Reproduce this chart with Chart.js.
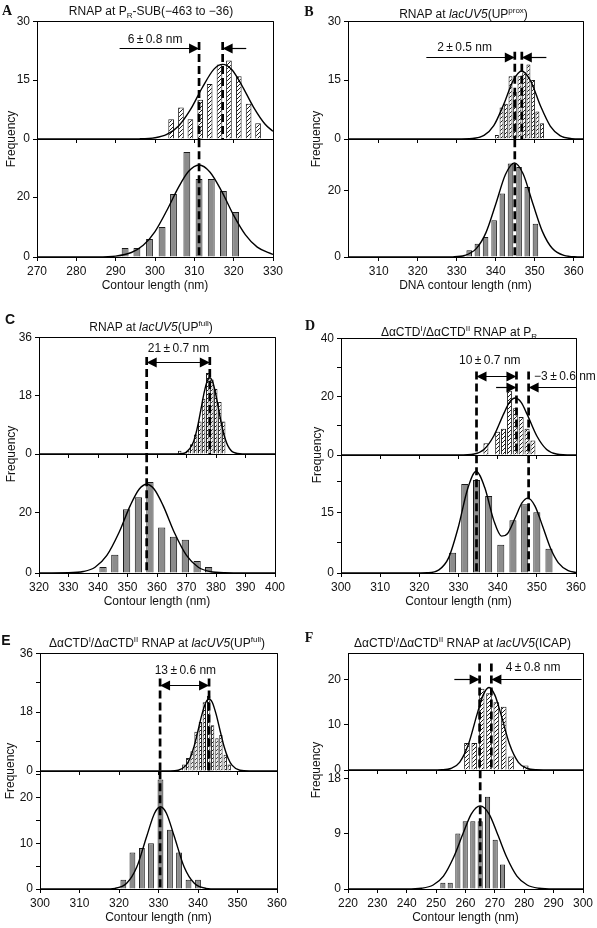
<!DOCTYPE html>
<html><head><meta charset="utf-8">
<script src="https://cdn.jsdelivr.net/npm/chart.js@4.4.1/dist/chart.umd.min.js"></script>
<style>
html,body{margin:0;padding:0;background:#fff;}
#fig{position:relative;width:597px;height:928px;overflow:hidden;background:#fff;font-family:"Liberation Sans",Arial,Helvetica,sans-serif;color:#111;}
#fig canvas{position:absolute;}
.t{position:absolute;font-size:12px;white-space:nowrap;transform:translate(-50%,-50%);line-height:14px;}
.L{position:absolute;font-weight:bold;font-size:14px;transform:translate(-50%,-50%);line-height:14px;}
.serif{font-family:"Liberation Serif","Times New Roman",serif;}
.yl{position:absolute;font-size:12px;white-space:nowrap;transform:translate(-50%,-50%) rotate(-90deg);line-height:14px;}
sub,sup{font-size:8px;line-height:0;}
</style></head><body><div id="fig"></div>
<script>
// ---------------- DATA ----------------
// Panel A
const xTicksA = [270,280,290,300,310,320,330];
const yTicksTopA = [0,15,30];
const yTicksBotA = [0,20];
const binsTopA = [304.1,306.6,309.0,311.5,313.9,316.4,318.8,321.3,323.8,326.2];
const countsTopA = [5,8,5,10,14,19,20,16,9,4];
const binsBotA = [292.4,295.4,298.6,301.8,304.7,308.1,311.2,314.3,317.4,320.5];
const countsBotA = [3,3,6,10,21,35,26,26,22,15];
const fitTopXA = [270,290,296,300,303,306,309,312,315,317.2,319.5,322,325,328,330];
const fitTopYA = [0,0,0.04,0.31,1.16,3.33,7.47,13.05,17.8,19,17.7,13.8,8.2,3.76,1.95];
const fitBotXA = [270,285,290,294,297,300,303,306,308.5,311.2,314,317,320,323,326,330];
const fitBotYA = [0,0.03,0.31,1.5,3.9,8.5,15.5,23.3,28.5,30.7,28.3,21.8,13.9,7.4,3.3,0.84];

// Panel B
const xTicksB = [310,320,330,340,350,360];
const yTicksTopB = [0,15,30];
const yTicksBotB = [0,20];
const binsTopB = [340.3,341.5,342.6,343.8,344.9,346.1,347.3,348.4,349.6,350.7,351.9];
const countsTopB = [1,8,9,16,12,16,17,19,15,7,4];
const binsBotB = [333.2,335.3,337.4,339.6,341.7,343.8,346.0,348.1,350.2];
const countsBotB = [2,4,6,11,19,28,27,21,10];
const fitTopXB = [302,330,334,337,339.5,342,344.5,346.7,349,351.5,354,356.5,359.5,362.4];
const fitTopYB = [0,0,0.11,0.91,3.4,8.7,14.9,17.3,14.7,8.4,3.3,0.86,0.1,0];
const fitBotXB = [302,325,329,332,335,337.5,340,342.5,344.8,347,349.5,352,354.5,357.5,361,362.4];
const fitBotYB = [0,0,0.05,0.45,2.5,7.3,15.8,24.7,28.2,25,16.1,7.6,2.6,0.48,0.04,0];

// Panel C
const xTicksC = [320,330,340,350,360,370,380,390,400];
const yTicksTopC = [0,18,36];
const yTicksBotC = [0,20];
const binsTopC = [367.7,369.0,370.4,371.8,373.1,374.5,375.8,377.2,378.6,379.9,381.3,382.6];
const countsTopC = [1,0,1,3,6,10,17,25,23,20,16,10];
const binsBotC = [341.7,345.7,349.7,353.7,357.6,361.6,365.6,369.6,373.6,377.5];
const countsBotC = [2,6,21,25,30,15,12,11,4,2];
const fitTopXC = [320,365,368,370,372,373,374,375,376,377,377.9,379,380,381,382,383,384,386,389,400];
const fitTopYC = [0,0,0.07,0.57,3.0,5.6,9.5,14.3,19,22.4,23.5,21.9,18.1,13.3,8.6,5.0,2.6,0.47,0.02,0];
const fitBotXC = [320,330,335,339,343,347,351,354,356.5,359,362,366,370,374,378,383,390,400];
const fitBotYC = [0,0.06,0.48,1.9,5.8,13.1,22.4,27.7,29.3,27.7,22.4,13.1,5.8,1.9,0.48,0.06,0,0];

// Panel D
const xTicksD = [300,310,320,330,340,350,360];
const yTicksTopD = [0,20,40];
const yMinorTopD = [10,30];
const yTicksBotD = [0,15];
const yMinorBotD = [7.5,22.5];
const binsTopD = [337,338.5,340,341.5,343,344.5,346,347.5,349];
const countsTopD = [4,0,8,9,22,16,13,9,5];
const binsBotD = [328.5,331.6,334.6,337.7,340.8,343.9,346.9,350.0,353.1];
const countsBotD = [5,22,23,19,7,13,17,15,6];
const fitTopXD = [300,330,334,336.5,339,341.5,343,344.5,346,347.5,350,352.5,355,359,360];
const fitTopYD = [0,0,0.35,1.88,6.5,14.0,18.0,19.5,18.0,14.0,6.5,1.88,0.35,0,0];
const fitBotXD = [300,318,322,325,327.5,330,332.3,334.5,336.7,339,341,342.5,344.5,346.2,347.7,349.5,351.5,353.5,355.5,358,360];
const fitBotYD = [0,0,0.06,0.77,3.8,11.5,20.7,25.1,21.1,13,9.1,9.7,13.7,17.3,18.5,16.6,11.5,6.1,2.5,0.56,0.13];

// Panel E
const xTicksE = [300,310,320,330,340,350,360];
const yTicksTopE = [0,18,36];
const yMinorTopE = [9,27];
const yTicksBotE = [0,10,20];
const yMinorBotE = [5,15,25];
const binsTopE = [336.4,337.4,338.5,339.5,340.6,341.6,342.7,343.7,344.8,345.8,346.9,347.9];
const countsTopE = [2,4,6,12,15,21,23,14,10,11,5,2];
const binsBotE = [321.1,323.4,325.8,328.1,330.5,332.9,335.2,337.6,340.0];
const countsBotE = [2,8,9,10,24,13,8,2,2];
const fitTopXE = [300,333,335,337,338,339,340,341,342,342.8,343.6,344.6,345.6,346.6,347.6,348.6,350.6,353,360];
const fitTopYE = [0,0,0.24,1.8,4.0,7.5,12.3,17.3,21,22,21,17.3,12.3,7.5,4.0,1.8,0.24,0,0];
const fitBotXE = [300,316,319,322,324.5,327,329,330.5,332,334,336.5,339,342,345,360];
const fitBotYE = [0,0,0.14,1.29,4.8,11.5,16.6,18,16.6,11.5,4.8,1.29,0.14,0,0];

// Panel F
const xTicksF = [220,230,240,250,260,270,280,290,300];
const yTicksTopF = [0,10,20];
const yTicksBotF = [0,9,18];
const binsTopF = [260.5,263,265.5,268,270.5,273,275.5,278,280.5];
const countsTopF = [6,6,18,17,15,14,3,0,1];
const binsBotF = [252.3,254.8,257.4,259.9,262.5,265.0,267.5,270.1,272.6];
const countsBotF = [1,1,9,11,11,11,15,8,4];
const fitTopXF = [220,248,252,255,258,261,264,266,268,270,272,275,278,281,284,290,300];
const fitTopYF = [0,0,0.04,0.33,1.7,5.7,12.5,16.6,18.3,16.6,12.5,5.7,1.7,0.33,0.04,0,0];
const fitBotXF = [220,240,245,249,252.5,256,259,262,265,268,271,274,277.5,281,285,290,300];
const fitBotYF = [0,0,0.12,0.65,2.1,5.2,8.8,12.2,13.5,12.2,8.8,5.2,2.1,0.65,0.12,0,0];

// ---------------- LAYOUT / CONFIG ----------------
const panels = [
 {left:37,right:273,top:21,mid:139,bot:257,xMin:270,xMax:330,xTicks:xTicksA,xTitle:'Contour length (nm)',
  T:{binX:binsTopA,count:countsTopA,fitX:fitTopXA,fitY:fitTopYA,yMax:30,yTicks:yTicksTopA,pct:0.6},
  B:{binX:binsBotA,count:countsBotA,fitX:fitBotXA,fitY:fitBotYA,yMax:39.3,yTicks:yTicksBotA,pct:0.6},
  TA:{dashes:[{x:311.2,y1:24.7},{x:317.2,y1:24.7}],arrows:[{x1:291,x2:311.2,y:23.1},{x1:323.2,x2:317.2,y:23.1}],texts:[{x:300,y:25.2,t:'6\u2009±\u20090.8 nm'}]},
  BA:{dashes:[{x:311.2}]}},
 {left:348,right:583,top:21,mid:139,bot:257,xMin:302.1,xMax:362.4,xTicks:xTicksB,xTitle:'DNA contour length (nm)',
  T:{binX:binsTopB,count:countsTopB,fitX:fitTopXB,fitY:fitTopYB,yMax:30,yTicks:yTicksTopB,pct:0.92},
  B:{binX:binsBotB,count:countsBotB,fitX:fitBotXB,fitY:fitBotYB,yMax:35.3,yTicks:yTicksBotB,pct:0.68},
  TA:{dashes:[{x:344.9,y1:22.2},{x:346.7,y1:22.2}],arrows:[{x1:322.2,x2:344.9,y:20.8},{x1:353,x2:346.7,y:20.8}],texts:[{x:332,y:23.2,t:'2\u2009±\u20090.5 nm'}]},
  BA:{dashes:[{x:344.9}]}},
 {left:39,right:275,top:337,mid:454,bot:573,xMin:320,xMax:400,xTicks:xTicksC,xTitle:'Contour length (nm)',
  T:{binX:binsTopC,count:countsTopC,fitX:fitTopXC,fitY:fitTopYC,yMax:36,yTicks:yTicksTopC,pct:0.92},
  B:{binX:binsBotC,count:countsBotC,fitX:fitBotXC,fitY:fitBotYC,yMax:39.2,yTicks:yTicksBotC,pct:0.63},
  TA:{dashes:[{x:356.5,y1:29.9},{x:377.9,y1:29.9}],arrows:[{x1:356.5,x2:377.9,y:28.3,both:true}],texts:[{x:367.3,y:32.6,t:'21\u2009±\u20090.7 nm'}]},
  BA:{dashes:[{x:356.5}]}},
 {left:341,right:576,top:338,mid:455,bot:573,xMin:300,xMax:360,xTicks:xTicksD,xTitle:'Contour length (nm)',
  T:{binX:binsTopD,count:countsTopD,fitX:fitTopXD,fitY:fitTopYD,yMax:40,yTicks:yTicksTopD,yMinor:yMinorTopD,pct:0.85},
  B:{binX:binsBotD,count:countsBotD,fitX:fitBotXD,fitY:fitBotYD,yMax:29.1,yTicks:yTicksBotD,yMinor:yMinorBotD,pct:0.6},
  TA:{dashes:[{x:334.6,y1:28.6},{x:344.8,y1:28.6},{x:347.9,y1:28.6}],
      arrows:[{x1:334.6,x2:344.8,y:26.9,both:true},{x1:339.6,x2:344.8,y:23.1},{x1:360,x2:347.9,y:23.1}],
      texts:[{x:338,y:32.4,t:'10\u2009±\u20090.7 nm'},{x:349.3,y:26.9,t:'\u22123\u2009±\u20090.6 nm',align:'left'}]},
  BA:{dashes:[{x:334.6},{x:347.9}]}},
 {left:40,right:277,top:653,mid:771,bot:889,xMin:300,xMax:360,xTicks:xTicksE,xTitle:'Contour length (nm)',
  T:{binX:binsTopE,count:countsTopE,fitX:fitTopXE,fitY:fitTopYE,yMax:36,yTicks:yTicksTopE,yMinor:yMinorTopE,pct:0.85},
  B:{binX:binsBotE,count:countsBotE,fitX:fitBotXE,fitY:fitBotYE,yMax:25.8,yTicks:yTicksBotE,yMinor:yMinorBotE,pct:0.64},
  TA:{dashes:[{x:330.4,y1:28.3},{x:342.8,y1:28.3}],arrows:[{x1:330.4,x2:342.8,y:26.0,both:true}],texts:[{x:336.8,y:30.6,t:'13\u2009±\u20090.6 nm'}]},
  BA:{dashes:[{x:330.4}]}},
 {left:348,right:583,top:653,mid:770,bot:889,xMin:220,xMax:300,xTicks:xTicksF,xTitle:'Contour length (nm)',
  T:{binX:binsTopF,count:countsTopF,fitX:fitTopXF,fitY:fitTopYF,yMax:25.9,yTicks:yTicksTopF,pct:0.77},
  B:{binX:binsBotF,count:countsBotF,fitX:fitBotXF,fitY:fitBotYF,yMax:19.3,yTicks:yTicksBotF,pct:0.7},
  TA:{dashes:[{x:264.8,y1:23.6},{x:268.8,y1:23.6}],arrows:[{x1:256.2,x2:264.8,y:20},{x1:299.5,x2:268.8,y:20}],texts:[{x:283,y:22.6,t:'4\u2009±\u20090.8 nm'}]},
  BA:{dashes:[{x:265}]}}
];

const htmlLabels = [
 {c:'L serif',x:7,y:11,h:'A'},
 {c:'L serif',x:309,y:11.5,h:'B'},
 {c:'L',x:10,y:319,h:'C'},
 {c:'L serif',x:310,y:325.5,h:'D'},
 {c:'L',x:6,y:640,h:'E'},
 {c:'L serif',x:309,y:638,h:'F'},
 {c:'t',x:151,y:10.5,h:'RNAP at P<sub>R</sub>-SUB(\u2212463 to \u221236)'},
 {c:'t',x:463.5,y:14,h:'RNAP at <i>lacUV5</i>(UP<sup>prox</sup>)'},
 {c:'t',x:151,y:326.7,h:'RNAP at <i>lacUV5</i>(UP<sup>full</sup>)'},
 {c:'t',x:459,y:331.7,h:'\u0394\u03b1CTD<sup>I</sup>/\u0394\u03b1CTD<sup>II</sup> RNAP at P<sub>R</sub>'},
 {c:'t',x:157,y:643.3,h:'\u0394\u03b1CTD<sup>I</sup>/\u0394\u03b1CTD<sup>II</sup> RNAP at <i>lacUV5</i>(UP<sup>full</sup>)'},
 {c:'t',x:462.5,y:643.3,h:'\u0394\u03b1CTD<sup>I</sup>/\u0394\u03b1CTD<sup>II</sup> RNAP at <i>lacUV5</i>(ICAP)'},
 {c:'yl',x:11,y:139,h:'Frequency'},
 {c:'yl',x:316,y:139,h:'Frequency'},
 {c:'yl',x:11,y:454,h:'Frequency'},
 {c:'yl',x:317,y:455,h:'Frequency'},
 {c:'yl',x:10,y:771,h:'Frequency'},
 {c:'yl',x:316,y:770,h:'Frequency'}
];

// ---------------- RENDER ----------------
Chart.defaults.font.family = '"Liberation Sans", Arial, Helvetica, sans-serif';
Chart.defaults.font.size = 12;
Chart.defaults.color = '#111';
const fig = document.getElementById('fig');

function makeHatch(){
  const s = 4, c = document.createElement('canvas');
  c.width = s; c.height = s;
  const g = c.getContext('2d');
  g.fillStyle = '#fff'; g.fillRect(0,0,s,s);
  g.strokeStyle = '#1a1a1a'; g.lineWidth = 1;
  g.beginPath();
  g.moveTo(0,s); g.lineTo(s,0);
  g.moveTo(-1,1); g.lineTo(1,-1);
  g.moveTo(s-1,s+1); g.lineTo(s+1,s-1);
  g.stroke();
  return g.createPattern(c,'repeat');
}
const HATCH = makeHatch();

function al(v){ return Math.round(v - 0.5) + 0.5; }

function head(ctx, tip, y, dir){
  const L = 10, H = 5;
  ctx.beginPath();
  ctx.moveTo(tip, y);
  ctx.lineTo(tip - dir*L, y - H);
  ctx.lineTo(tip - dir*L, y + H);
  ctx.closePath();
  ctx.fill();
}

function annoPlugin(spec, isBot){
  return {
    id: 'anno',
    afterDatasetsDraw(chart){
      const ctx = chart.ctx, ca = chart.chartArea, xs = chart.scales.x, ys = chart.scales.y;
      ctx.save();
      ctx.strokeStyle = '#000'; ctx.fillStyle = '#000'; ctx.lineWidth = 1;
      // frame (top + right)
      ctx.beginPath();
      if (!isBot){ ctx.moveTo(ca.left, al(ca.top)); ctx.lineTo(al(ca.right), al(ca.top)); }
      ctx.moveTo(al(ca.right), ca.top); ctx.lineTo(al(ca.right), ca.bottom);
      ctx.stroke();
      // dashed lines
      (spec.dashes||[]).forEach(d => {
        const px = xs.getPixelForValue(d.x);
        const y1 = d.y1 == null ? ca.top : ys.getPixelForValue(d.y1);
        const y2 = ys.getPixelForValue(0);
        ctx.save();
        ctx.setLineDash([8,4]); ctx.lineWidth = 2.7;
        ctx.beginPath(); ctx.moveTo(px, y1); ctx.lineTo(px, y2); ctx.stroke();
        ctx.restore();
      });
      // arrows
      (spec.arrows||[]).forEach(a => {
        const x1 = xs.getPixelForValue(a.x1), x2 = xs.getPixelForValue(a.x2);
        const y = al(ys.getPixelForValue(a.y));
        ctx.lineWidth = 1.2;
        ctx.beginPath(); ctx.moveTo(x1, y); ctx.lineTo(x2, y); ctx.stroke();
        head(ctx, x2, y, Math.sign(x2 - x1));
        if (a.both) head(ctx, x1, y, Math.sign(x1 - x2));
      });
      // texts
      ctx.font = '12px "Liberation Sans", Arial, sans-serif';
      ctx.fillStyle = '#111';
      ctx.textBaseline = 'middle';
      (spec.texts||[]).forEach(t => {
        ctx.textAlign = t.align || 'center';
        ctx.fillText(t.t, xs.getPixelForValue(t.x), ys.getPixelForValue(t.y));
      });
      ctx.restore();
    }
  };
}

function buildChart(p, isBot){
  const d = isBot ? p.B : p.T;
  const spec = isBot ? p.BA : p.TA;
  const plotT = isBot ? p.mid : p.top, plotB = isBot ? p.bot : p.mid;
  const YW = 40, PT = 10, PR = 24, XH = isBot ? 40 : 6, PB = isBot ? 0 : 6;
  const w = p.right - p.left + YW + PR, h = plotB - plotT + PT + XH + PB;
  const cv = document.createElement('canvas');
  cv.width = w; cv.height = h;
  cv.style.left = (p.left - YW) + 'px'; cv.style.top = (plotT - PT) + 'px';
  cv.style.width = w + 'px'; cv.style.height = h + 'px';
  fig.appendChild(cv);
  const allY = d.yTicks.concat(d.yMinor || []).sort((a,b) => a - b);
  new Chart(cv, {
    type: 'bar',
    data: { datasets: [
      { type: 'line', data: d.fitX.map((x,i) => ({x: x, y: d.fitY[i]})),
        borderColor: '#000', borderWidth: 1.4, pointRadius: 0, cubicInterpolationMode: 'monotone', fill: false, order: 0 },
      { type: 'bar', data: d.binX.map((x,i) => ({x: x, y: d.count[i]})),
        backgroundColor: isBot ? '#8c8c8c' : HATCH, borderColor: '#1a1a1a', borderWidth: 1,
        barPercentage: d.pct, categoryPercentage: 1, grouped: false, order: 1 }
    ]},
    options: {
      responsive: false, animation: false, devicePixelRatio: 1, events: [],
      layout: { padding: { left: 0, right: PR, top: PT, bottom: PB } },
      plugins: { legend: { display: false }, tooltip: { enabled: false } },
      scales: {
        x: { type: 'linear', min: p.xMin, max: p.xMax, offset: false,
             afterBuildTicks: s => { s.ticks = p.xTicks.map(v => ({value: v})); },
             afterFit: s => { s.height = XH; },
             grid: { display: true, drawOnChartArea: false, drawTicks: true, tickLength: 4, color: '#000', offset: false },
             border: { display: true, color: '#000', width: 1 },
             ticks: { display: isBot, autoSkip: false, maxRotation: 0, padding: 3, color: '#111', font: { size: 12 } },
             title: { display: isBot, text: p.xTitle, padding: { top: 0, bottom: 4 }, color: '#111', font: { size: 12 } } },
        y: { type: 'linear', min: 0, max: d.yMax,
             afterBuildTicks: s => { s.ticks = allY.map(v => ({value: v})); },
             afterFit: s => { s.width = YW; },
             grid: { display: true, drawOnChartArea: false, drawTicks: true, tickLength: 4, color: '#000' },
             border: { display: true, color: '#000', width: 1 },
             ticks: { padding: 3, color: '#111', font: { size: 12 },
                      callback: v => d.yTicks.includes(v) ? String(v) : '' } }
      }
    },
    plugins: [annoPlugin(spec, isBot)]
  });
}

panels.forEach(p => { buildChart(p, true); buildChart(p, false); });

htmlLabels.forEach(l => {
  const e = document.createElement('div');
  e.className = l.c;
  e.style.left = l.x + 'px'; e.style.top = l.y + 'px';
  e.innerHTML = l.h;
  fig.appendChild(e);
});
</script></body></html>
